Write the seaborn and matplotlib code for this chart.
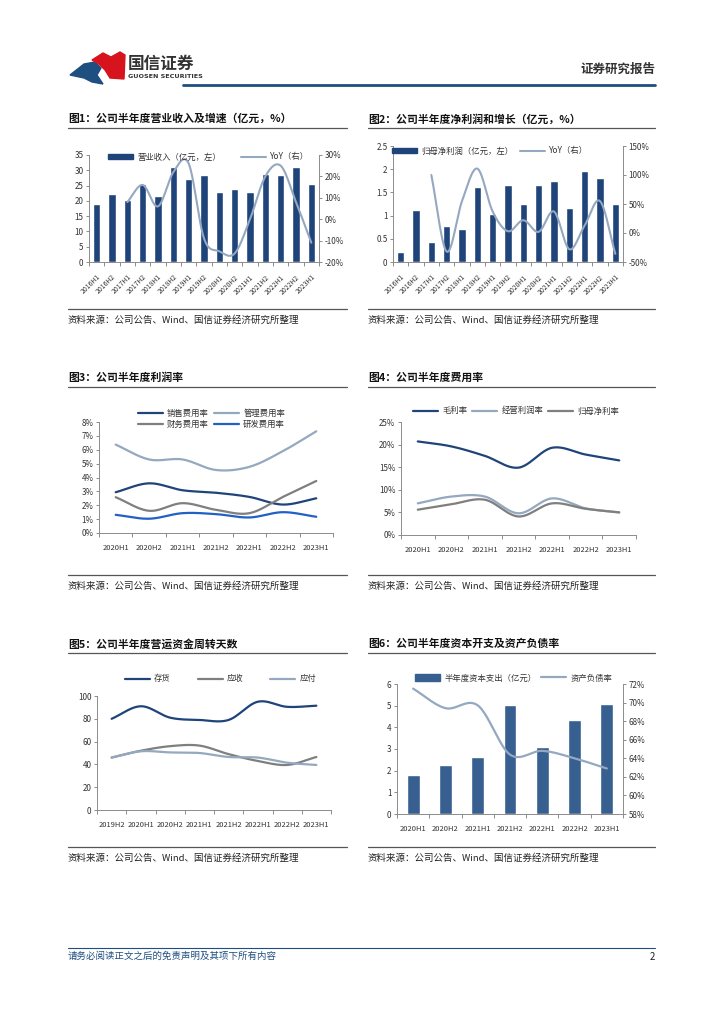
import numpy as np
import pandas as pd
import matplotlib
matplotlib.use('Agg')
import matplotlib.pyplot as plt
import seaborn as sns
from matplotlib.patches import Patch, Polygon
from matplotlib.lines import Line2D

# ---------------- data ----------------
halves_long = ['2016H1', '2016H2', '2017H1', '2017H2', '2018H1', '2018H2', '2019H1', '2019H2',
               '2020H1', '2020H2', '2021H1', '2021H2', '2022H1', '2022H2', '2023H1']
revenue = [18.9, 22.2, 20.4, 25.6, 21.5, 31.2, 27.1, 28.4, 23.0, 24.0, 22.9, 28.8, 28.5, 31.2, 25.4]
revenue_yoy = [8, 16, 6, 22, 26, -9, -15, -16, 0, 20, 25, 8, -11]          # from 2017H1
net_profit = [0.22, 1.11, 0.44, 0.77, 0.72, 1.62, 1.04, 1.65, 1.26, 1.65, 1.74, 1.17, 1.96, 1.80, 1.24]
profit_yoy = [100, -32, 55, 111, 37, 3, 22, 2, 37, -28, 13, 55, -36]        # from 2017H1

halves7 = ['2020H1', '2020H2', '2021H1', '2021H2', '2022H1', '2022H2', '2023H1']
sales_rate = [2.94, 3.58, 3.08, 2.90, 2.60, 2.05, 2.50]
admin_rate = [6.37, 5.30, 5.30, 4.54, 4.77, 5.90, 7.33]
fin_rate = [2.58, 1.60, 2.15, 1.67, 1.43, 2.60, 3.75]
rd_rate = [1.31, 1.03, 1.43, 1.36, 1.12, 1.50, 1.17]

gross_margin = [20.7, 19.6, 17.5, 14.9, 19.3, 17.8, 16.5]
op_margin = [7.0, 8.5, 8.5, 4.8, 8.1, 5.9, 5.0]
net_margin = [5.6, 6.8, 7.8, 4.1, 7.0, 5.8, 5.0]

halves8 = ['2019H2', '2020H1', '2020H2', '2021H1', '2021H2', '2022H1', '2022H2', '2023H1']
inventory_days = [80, 91, 81, 79, 79, 95, 90.5, 91.5]
receivable_days = [46, 52, 56, 56.5, 49, 43, 39.5, 46.5]
payable_days = [46, 51.5, 50.5, 50, 46.5, 46, 41.5, 39.5]

capex = [1.78, 2.25, 2.62, 5.03, 3.10, 4.33, 5.10]
debt_ratio = [71.5, 69.4, 69.7, 64.4, 64.8, 64.0, 62.9]

source_text = '资料来源：公司公告、Wind、国信证券经济研究所整理'

# ---------------- style ----------------
sns.set_theme(style='white')
plt.rcParams['font.family'] = ['Noto Sans CJK SC', 'DejaVu Sans']
plt.rcParams['axes.unicode_minus'] = False

NAVY = '#1f4479'
NAVY2 = '#375f90'
LIGHT = '#94a8c0'
GRAY = '#7f7f7f'
BLUE = '#2160c4'
AX = '#8c8c8c'
TXT = '#333333'

W, H = 724, 1024
fig = plt.figure(figsize=(W / 100, H / 100), dpi=100)


def fx(x):
    return x / W


def fy(y):
    return 1 - y / H


def px_axes(l, t, r, b):
    return fig.add_axes([fx(l), fy(b), fx(r - l), (b - t) / H])


def smooth(xs, ys, n=24):
    # Catmull-Rom curve through the points (Excel style smoothed line)
    xs = np.asarray(xs, float)
    ys = np.asarray(ys, float)
    px = np.concatenate([[2 * xs[0] - xs[1]], xs, [2 * xs[-1] - xs[-2]]])
    py = np.concatenate([[2 * ys[0] - ys[1]], ys, [2 * ys[-1] - ys[-2]]])
    t = np.linspace(0, 1, n, endpoint=False)
    ox, oy = [], []
    for i in range(1, len(px) - 2):
        for p, o in ((px, ox), (py, oy)):
            p0, p1, p2, p3 = p[i - 1], p[i], p[i + 1], p[i + 2]
            o.extend(0.5 * (2 * p1 + (-p0 + p2) * t + (2 * p0 - 5 * p1 + 4 * p2 - p3) * t ** 2
                            + (-p0 + 3 * p1 - 3 * p2 + p3) * t ** 3))
    ox.append(xs[-1])
    oy.append(ys[-1])
    return np.array(ox), np.array(oy)


def smooth_line(ax, xs, ys, color, lw=1.6):
    sx, sy = smooth(xs, ys)
    sns.lineplot(x=sx, y=sy, ax=ax, color=color, lw=lw, sort=False, estimator=None)


def base_style(ax, n, labels, rot=0, fs=5.4):
    for s in ['top', 'right']:
        ax.spines[s].set_visible(False)
    for s in ['left', 'bottom']:
        ax.spines[s].set_color(AX)
        ax.spines[s].set_linewidth(0.7)
    ax.set_xlim(-0.5, n - 0.5)
    ax.set_xticks(range(n))
    if rot:
        ax.set_xticklabels(labels, rotation=rot, ha='right', rotation_mode='anchor', fontsize=fs, color=TXT)
    else:
        ax.set_xticklabels(labels, fontsize=fs, color=TXT)
    ax.set_xticks(np.arange(-0.5, n), minor=True)
    ax.tick_params(axis='x', which='major', bottom=False, pad=2)
    ax.tick_params(axis='x', which='minor', bottom=True, length=3, width=0.7, color=AX)
    ax.tick_params(axis='y', left=True, length=2.5, width=0.7, color=AX, labelsize=5.8,
                   labelcolor=TXT, pad=1.5)
    ax.set_xlabel('')
    ax.set_ylabel('')
    ax.set_facecolor('none')


def right_style(ax2):
    for s in ['top', 'left', 'bottom']:
        ax2.spines[s].set_visible(False)
    ax2.spines['right'].set_visible(True)
    ax2.spines['right'].set_color(AX)
    ax2.spines['right'].set_linewidth(0.7)
    ax2.tick_params(axis='y', right=True, length=2.5, width=0.7, color=AX, labelsize=5.8,
                    labelcolor=TXT, pad=1.5)
    ax2.grid(False)


def pct_ticks(ax, vals):
    ax.set_yticks(vals)
    ax.set_yticklabels([f'{v:g}%' for v in vals])


def section(x0, x1, y_title, y_line, title, y_src_line, y_src):
    fig.text(fx(x0), fy(y_title), title, fontsize=7.8, fontweight='bold', color='#111111', va='center')
    fig.add_artist(Line2D([fx(x0), fx(x1)], [fy(y_line), fy(y_line)], color='#555555', lw=0.9))
    fig.add_artist(Line2D([fx(x0), fx(x1)], [fy(y_src_line), fy(y_src_line)], color='#555555', lw=0.9))
    fig.text(fx(x0), fy(y_src), source_text, fontsize=6.8, color='#222222', va='center')


def legend_at(handles, labels, x, y, ncol, **kw):
    opts = dict(loc='center left', bbox_to_anchor=(fx(x), fy(y)), ncol=ncol, frameon=False,
                fontsize=6, borderpad=0, borderaxespad=0, handlelength=3, handletextpad=0.5,
                columnspacing=1.0, labelcolor=TXT)
    opts.update(kw)
    fig.legend(handles, labels, **opts)


# ---------------- header / footer ----------------
fig.add_artist(Polygon([[fx(70), fy(75)], [fx(84), fy(64)], [fx(95), fy(62)], [fx(101), fy(68)],
                        [fx(97), fy(75)], [fx(103), fy(84)], [fx(92), fy(82)], [fx(84), fy(78)]],
                       closed=True, color='#1f4e80', transform=fig.transFigure))
fig.add_artist(Polygon([[fx(92), fy(60)], [fx(103), fy(53)], [fx(111), fy(57)], [fx(120), fy(52)],
                        [fx(125), fy(55)], [fx(124), fy(79)], [fx(110), fy(78)], [fx(105), fy(70)],
                        [fx(99), fy(64)]],
                       closed=True, color='#d7141e', transform=fig.transFigure))
fig.text(fx(128), fy(64), '国信证券', fontsize=12, fontweight='bold', color='#333333', va='center')
fig.text(fx(128), fy(77), 'GUOSEN SECURITIES', fontsize=4.6, fontweight='bold', color='#333333', va='center',
         family=['DejaVu Sans'])
fig.text(fx(655), fy(69), '证券研究报告', fontsize=9, fontweight='bold', color='#333333', va='center', ha='right')
fig.add_artist(Line2D([fx(183), fx(655)], [fy(85), fy(85)], color='#1f4e80', lw=2.0))

fig.add_artist(Line2D([fx(68), fx(655)], [fy(948), fy(948)], color='#1f4e80', lw=0.8))
fig.text(fx(68), fy(956), '请务必阅读正文之后的免责声明及其项下所有内容', fontsize=6.8, color='#1f4e80',
         va='center', style='italic')
fig.text(fx(655), fy(957), '2', fontsize=7, color='#222222', va='center', ha='right')

# ---------------- sections ----------------
section(68, 347, 119, 128, '图1：公司半年度营业收入及增速（亿元，%）', 309, 320)
section(368, 655, 119, 128, '图2：公司半年度净利润和增长（亿元，%）', 309, 320)
section(68, 347, 378, 387, '图3：公司半年度利润率', 575, 586)
section(368, 655, 378, 387, '图4：公司半年度费用率', 575, 586)
section(68, 347, 644, 653, '图5：公司半年度营运资金周转天数', 847, 858)
section(368, 655, 644, 653, '图6：公司半年度资本开支及资产负债率', 847, 858)

# ---------------- chart 1 ----------------
ax = px_axes(89, 155, 319, 262)
sns.barplot(x=halves_long, y=revenue, ax=ax, color=NAVY, width=0.47, saturation=1)
base_style(ax, len(halves_long), halves_long, rot=45, fs=4.9)
ax.set_ylim(0, 35)
ax.set_yticks(range(0, 36, 5))
ax2 = ax.twinx()
smooth_line(ax2, range(2, 15), revenue_yoy, LIGHT, lw=1.5)
ax2.set_ylim(-20, 30)
right_style(ax2)
pct_ticks(ax2, range(-20, 31, 10))
ax2.set_xlim(-0.5, 14.5)
legend_at([Patch(color=NAVY), Line2D([], [], color=LIGHT, lw=1.5)],
          ['营业收入（亿元，左）', 'YoY（右）'], 108, 157, 2, handleheight=0.55, columnspacing=2.4)

# ---------------- chart 2 ----------------
ax = px_axes(393, 146, 623, 262)
sns.barplot(x=halves_long, y=net_profit, ax=ax, color=NAVY, width=0.47, saturation=1)
base_style(ax, len(halves_long), halves_long, rot=45, fs=4.9)
ax.set_ylim(0, 2.5)
ax.set_yticks([0, 0.5, 1, 1.5, 2, 2.5])
ax.set_yticklabels(['0', '0.5', '1', '1.5', '2', '2.5'])
ax2 = ax.twinx()
smooth_line(ax2, range(2, 15), profit_yoy, LIGHT, lw=1.5)
ax2.set_ylim(-50, 150)
right_style(ax2)
pct_ticks(ax2, range(-50, 151, 50))
ax2.set_xlim(-0.5, 14.5)
legend_at([Patch(color=NAVY), Line2D([], [], color=LIGHT, lw=1.5)],
          ['归母净利润（亿元，左）', 'YoY（右）'], 392, 151, 2, handleheight=0.55, columnspacing=0.8)

# ---------------- chart 3 ----------------
ax = px_axes(99, 422, 333, 533)
x7 = range(len(halves7))
smooth_line(ax, x7, sales_rate, NAVY)
smooth_line(ax, x7, admin_rate, LIGHT)
smooth_line(ax, x7, fin_rate, GRAY)
smooth_line(ax, x7, rd_rate, BLUE)
base_style(ax, len(halves7), halves7)
ax.set_ylim(0, 8)
pct_ticks(ax, range(0, 9))
legend_at([Line2D([], [], color=NAVY, lw=1.6), Line2D([], [], color=GRAY, lw=1.6),
           Line2D([], [], color=LIGHT, lw=1.6), Line2D([], [], color=BLUE, lw=1.6)],
          ['销售费用率', '财务费用率', '管理费用率', '研发费用率'], 138, 419, 2,
          columnspacing=0.6, labelspacing=0.25)

# ---------------- chart 4 ----------------
ax = px_axes(401, 422, 636, 535)
smooth_line(ax, x7, gross_margin, NAVY)
smooth_line(ax, x7, op_margin, LIGHT)
smooth_line(ax, x7, net_margin, GRAY)
base_style(ax, len(halves7), halves7)
ax.set_ylim(0, 25)
pct_ticks(ax, range(0, 26, 5))
legend_at([Line2D([], [], color=NAVY, lw=1.6), Line2D([], [], color=LIGHT, lw=1.6),
           Line2D([], [], color=GRAY, lw=1.6)],
          ['毛利率', '经营利润率', '归母净利率'], 413, 411, 3, columnspacing=0.6)

# ---------------- chart 5 ----------------
ax = px_axes(97, 696, 331, 810)
x8 = range(len(halves8))
smooth_line(ax, x8, inventory_days, NAVY)
smooth_line(ax, x8, receivable_days, GRAY)
smooth_line(ax, x8, payable_days, LIGHT)
base_style(ax, len(halves8), halves8)
ax.set_ylim(0, 100)
ax.set_yticks(range(0, 101, 20))
legend_at([Line2D([], [], color=NAVY, lw=1.6), Line2D([], [], color=GRAY, lw=1.6),
           Line2D([], [], color=LIGHT, lw=1.6)],
          ['存货', '应收', '应付'], 125, 679, 3, columnspacing=3.2)

# ---------------- chart 6 ----------------
ax = px_axes(397, 684, 623, 814)
sns.barplot(x=halves7, y=capex, ax=ax, color=NAVY2, width=0.4, saturation=1)
base_style(ax, len(halves7), halves7)
ax.set_ylim(0, 6)
ax.set_yticks(range(0, 7))
ax2 = ax.twinx()
smooth_line(ax2, x7, debt_ratio, LIGHT, lw=1.6)
ax2.set_ylim(58, 72)
right_style(ax2)
pct_ticks(ax2, range(58, 73, 2))
ax2.set_xlim(-0.5, 6.5)
legend_at([Patch(color=NAVY2), Line2D([], [], color=LIGHT, lw=1.6)],
          ['半年度资本支出（亿元）', '资产负债率'], 415, 678, 2, handleheight=0.9, columnspacing=0.6)

fig.savefig('out.png', dpi=100)
